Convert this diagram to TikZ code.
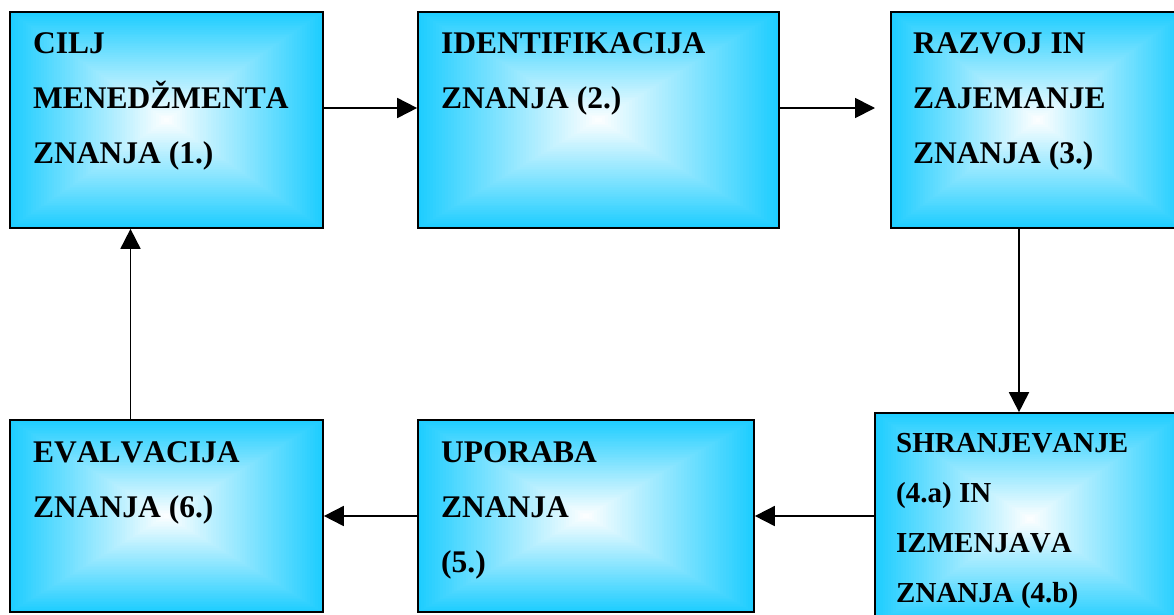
\documentclass[tikz,border=0pt]{standalone}
\usepackage{fontspec}
\setmainfont{Liberation Serif}[Kerning=Off]
\usetikzlibrary{arrows.meta,calc}

\definecolor{boxcyan}{RGB}{30,205,255}

\tikzset{
  % box with a rectangular "from centre" gradient: white in the middle, cyan at the edges,
  % built from nested rectangles shrinking towards the centre
  gbox/.style={rectangle, draw=black, line width=1.7pt, inner sep=0pt,
    path picture={
      \coordinate (gc) at (path picture bounding box.center);
      \coordinate (gnw) at (path picture bounding box.north west);
      \coordinate (gse) at (path picture bounding box.south east);
      \foreach \i in {0,...,59}{
        \pgfmathsetmacro{\gs}{1-\i/60}
        \pgfmathsetmacro{\gp}{100*\gs}
        \fill[boxcyan!\gp!white] ($(gc)!\gs!(gnw)$) rectangle ($(gc)!\gs!(gse)$);
      }
    }},
  label/.style={anchor=base west, inner sep=0pt,
    font=\fontsize{31.5}{55}\selectfont\bfseries},
  labelsmall/.style={label, font=\fontsize{29}{50}\selectfont\bfseries},
  arr/.style={line width=1.8pt, -{Triangle[length=20pt,width=20pt]}},
}

% stack lines so that the first baseline is the baseline of the box
\newcommand{\stacklines}[1]{\vtop{\halign{##\hfil\cr#1\crcr}}}

\begin{document}
\begin{tikzpicture}[x=1pt, y=-1pt]
  \useasboundingbox (0,0) rectangle (1174,614);
  \clip (0,0) rectangle (1174,614);

  % boxes
  \node[gbox, minimum width=313pt, minimum height=216pt] (b1) at (166.5,120) {};
  \node[gbox, minimum width=361pt, minimum height=216pt] (b2) at (598.5,120) {};
  \node[gbox, minimum width=294pt, minimum height=216pt] (b3) at (1038,120) {};
  \node[gbox, minimum width=310pt, minimum height=212pt] (b4) at (1030,519) {};
  \node[gbox, minimum width=336pt, minimum height=192pt] (b5) at (586,516) {};
  \node[gbox, minimum width=313pt, minimum height=192pt] (b6) at (166.5,516) {};

  % texts
  \node[label] (t1) at (33,53)  {\stacklines{CILJ\cr MENEDŽMENTA\cr ZNANJA (1.)}};
  \node[label] (t2) at (441,53) {\stacklines{IDENTIFIKACIJA\cr ZNANJA (2.)}};
  \node[label] (t3) at (913,53) {\stacklines{RAZVOJ IN\cr ZAJEMANJE\cr ZNANJA (3.)}};
  \node[labelsmall] (t4) at (896,452) {\stacklines{SHRANJEVANJE\cr (4.a) IN\cr IZMENJAVA\cr ZNANJA (4.b)}};
  \node[label] (t5) at (441,462) {\stacklines{UPORABA\cr ZNANJA\cr (5.)}};
  \node[label] (t6) at (33,462)  {\stacklines{EVALVACIJA\cr ZNANJA (6.)}};

  % connector rows and columns
  \coordinate (row1) at (0,108);
  \coordinate (tip23) at (875,108);
  \coordinate (col1) at (130.5,0);
  \coordinate (col3) at (1019,0);

  % connectors
  \draw[arr] (b1.east |- row1) -- (b2.west |- row1);
  \draw[arr] (b2.east |- row1) -- (tip23);
  \draw[arr] (b3.south -| col3) -- (b4.north -| col3);
  \draw[arr] (b4.west |- b5.east) -- (b5.east);
  \draw[arr] (b5.west) -- (b6.east);
  \draw[arr] (b6.north -| col1) -- (b1.south -| col1);
\end{tikzpicture}
\end{document}
